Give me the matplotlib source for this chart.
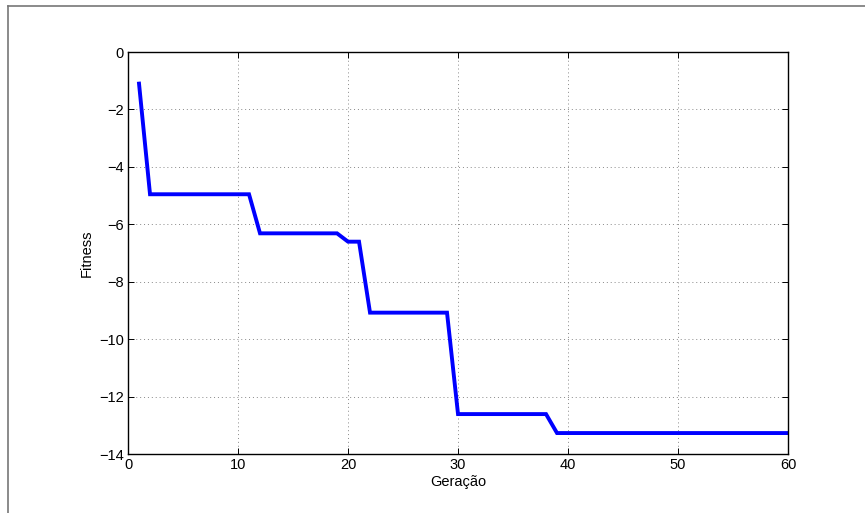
import matplotlib.pyplot as plt
from matplotlib.lines import Line2D

# best fitness per generation
geracao = list(range(1, 61))
fitness = [-1.1, -4.95, -4.95, -4.95, -4.95, -4.95, -4.95, -4.95, -4.95, -4.95,
           -4.95, -6.31, -6.31, -6.31, -6.31, -6.31, -6.31, -6.31, -6.31, -6.6,
           -6.6, -9.07, -9.07, -9.07, -9.07, -9.07, -9.07, -9.07, -9.07, -12.6,
           -12.6, -12.6, -12.6, -12.6, -12.6, -12.6, -12.6, -12.6, -13.26, -13.26,
           -13.26, -13.26, -13.26, -13.26, -13.26, -13.26, -13.26, -13.26, -13.26, -13.26,
           -13.26, -13.26, -13.26, -13.26, -13.26, -13.26, -13.26, -13.26, -13.26, -13.26]

x_ticks = [0, 10, 20, 30, 40, 50, 60]
y_ticks = [0, -2, -4, -6, -8, -10, -12, -14]

plt.rcParams['font.family'] = ['Liberation Sans', 'DejaVu Sans']

fig = plt.figure(figsize=(8.65, 5.13), dpi=100)
ax = fig.add_axes([0.148, 0.1144, 0.763, 0.7842])

ax.plot(geracao, fitness, color='#0000ff', linewidth=2.8, solid_joinstyle='miter')

ax.set_xlim(0, 60)
ax.set_ylim(-14, 0)
ax.set_xticks(x_ticks)
ax.set_yticks(y_ticks)
ax.grid(True, linestyle=(0, (1, 3)), color='#888888', linewidth=0.7)
ax.tick_params(direction='in', top=True, right=True, length=4, width=0.7,
               labelsize=10.5, pad=3)
for s in ax.spines.values():
    s.set_linewidth(1.0)

ax.set_xlabel('Geração', fontsize=10.5, labelpad=2)
ax.set_ylabel('Fitness', fontsize=10.5, labelpad=4)

# thin frame on the left and top edges of the figure
fig.add_artist(Line2D([8 / 865, 8 / 865], [0, 1 - 6 / 513], transform=fig.transFigure,
                      color='#777777', linewidth=1.2))
fig.add_artist(Line2D([8 / 865, 1], [1 - 6 / 513, 1 - 6 / 513], transform=fig.transFigure,
                      color='#777777', linewidth=1.2))

fig.savefig('out.png', dpi=100)
